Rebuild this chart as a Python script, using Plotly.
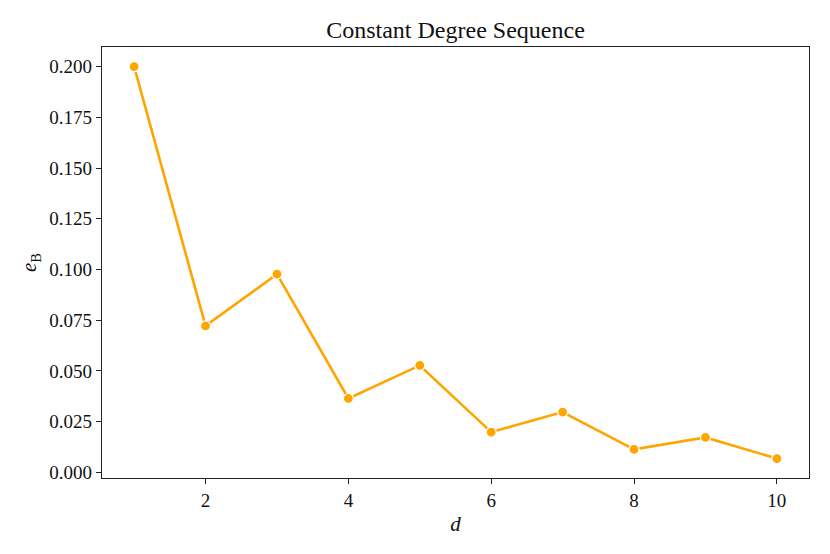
import plotly.graph_objects as go

d_values = [1, 2, 3, 4, 5, 6, 7, 8, 9, 10]
e_b_values = [0.200, 0.0722, 0.0977, 0.0364, 0.0527, 0.0198, 0.0297, 0.0113, 0.0172, 0.0068]
y_ticks = [0.0, 0.025, 0.05, 0.075, 0.1, 0.125, 0.15, 0.175, 0.2]
x_ticks = [2, 4, 6, 8, 10]

font_family = "Liberation Serif, DejaVu Serif, serif"

fig = go.Figure()
fig.add_trace(go.Scatter(
    x=d_values, y=e_b_values, mode="lines+markers",
    line=dict(color="#FFA500", width=2.6),
    marker=dict(color="#FFA500", size=10, line=dict(color="white", width=1.2)),
    showlegend=False,
))

axis_common = dict(
    showline=True, mirror=True, linecolor="#222", linewidth=1.3,
    ticks="outside", ticklen=5, tickwidth=1.3, tickcolor="#222",
    showgrid=False, zeroline=False,
    tickfont=dict(family=font_family, size=19, color="#111"),
)

# page body has an 8px default margin; size the figure to fit the 830x554 window
fig.update_layout(
    width=822, height=546,
    margin=dict(l=94, r=21, t=39, b=76),
    paper_bgcolor="white", plot_bgcolor="white",
    title=dict(text="Constant Degree Sequence", x=0.5, xanchor="center", xref="paper",
               y=1 - 22 / 546, yanchor="middle",
               font=dict(family=font_family, size=24, color="#111")),
    xaxis=dict(range=[0.55, 10.45], tickvals=x_ticks, ticktext=[str(v) for v in x_ticks],
               title=dict(text="<i>d</i>", font=dict(family=font_family, size=21, color="#111"), standoff=6),
               **axis_common),
    yaxis=dict(range=[-0.0028, 0.2097], tickvals=y_ticks, ticktext=[f"{v:.3f}" for v in y_ticks],
               title=dict(text="<i>e</i><sub>B</sub>", font=dict(family=font_family, size=21, color="#111"), standoff=6),
               **axis_common),
)

fig.write_html("out.html")
